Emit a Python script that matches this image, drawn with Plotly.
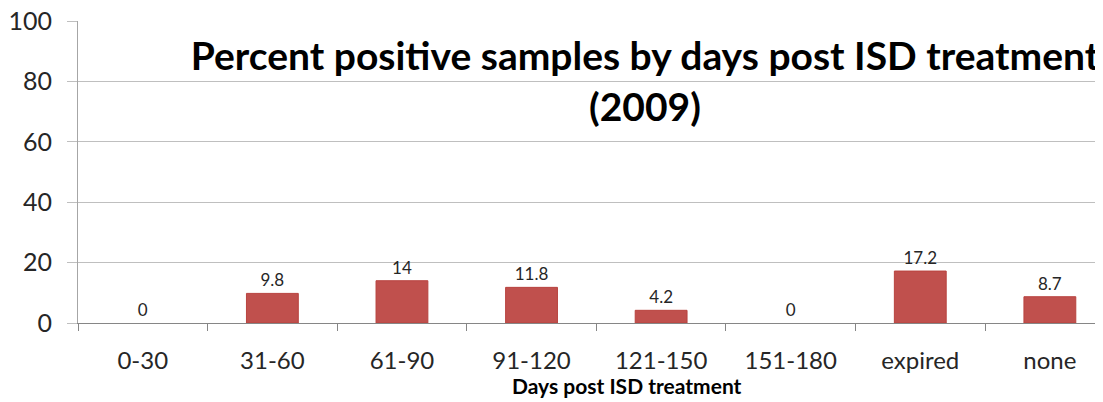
import plotly.graph_objects as go

categories = ["0-30", "31-60", "61-90", "91-120", "121-150", "151-180", "expired", "none"]
values = [0, 9.8, 14, 11.8, 4.2, 0, 17.2, 8.7]
labels = ["0", "9.8", "14", "11.8", "4.2", "0", "17.2", "8.7"]
y_ticks = [0, 20, 40, 60, 80, 100]

FONT = "Lato"
W, H = 1095, 394          # page body has an 8px margin
PT, PB = 13, 315          # plot top / bottom in figure pixels

fig = go.Figure()
fig.add_trace(go.Bar(
    x=categories, y=values,
    text=labels, textposition="outside", texttemplate="%{text}",
    textfont=dict(family=FONT, size=17, color="#262626"),
    marker=dict(color="#C0504D",
                line=dict(color="#B8433F", width=[0 if v == 0 else 1 for v in values])),
    width=0.4, cliponaxis=False,
))

fig.update_layout(
    width=W, height=H,
    margin=dict(l=70, r=0, t=PT, b=H - PB, autoexpand=False),
    paper_bgcolor="white", plot_bgcolor="white",
    showlegend=False,
    font=dict(family=FONT, color="#262626"),
    title=dict(
        text="<b>Percent positive samples by days post ISD treatment</b><br><b>(2009)</b>",
        x=637 / W, xanchor="center", y=1 - 62 / H, yanchor="top",
        font=dict(family=FONT, size=39, color="#000000"),
    ),
    xaxis=dict(
        range=[-0.5, 7.41], tickson="boundaries", ticks="outside", ticklen=7,
        tickcolor="#868686", showline=True, linecolor="#868686", linewidth=1,
        tickfont=dict(family=FONT, size=24, color="#262626"),
        ticklabelstandoff=16, ticklabeloverflow="allow",
        showgrid=False, automargin=False,
    ),
    yaxis=dict(
        range=[0, 100], tickvals=y_ticks, ticks="outside", ticklen=10,
        tickcolor="#BFBFBF", showline=True, linecolor="#A6A6A6", linewidth=1,
        gridcolor="#BFBFBF", gridwidth=1, zeroline=False, automargin=False,
        ticklabelstandoff=10, ticklabeloverflow="allow",
        tickfont=dict(family=FONT, size=25, color="#262626"),
    ),
)

fig.add_annotation(
    text="<b>Days post ISD treatment</b>", x=587 / W, xref="paper",
    y=-(377 - PB) / (PB - PT), yref="paper", yanchor="middle", xanchor="center",
    showarrow=False, font=dict(family=FONT, size=21, color="#000000"),
)

fig.write_html("out.html")
